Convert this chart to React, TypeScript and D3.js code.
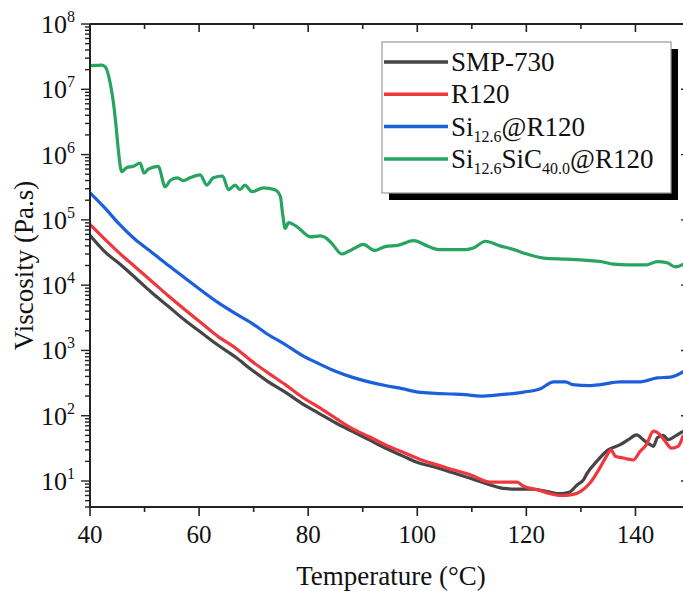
import { curveMonotoneX, line, scaleLinear, scaleLog } from 'd3';

// temperature (°C), viscosity (Pa.s)
const smp730: [number, number][] = [
  [40, 5.8e4], [42.8, 3.2e4], [45.2, 2.2e4], [48.3, 1.3e4], [51.3, 7.7e3], [54.4, 4.7e3],
  [57.4, 2.9e3], [60.5, 1.85e3], [63.5, 1.2e3], [66.6, 800], [69.7, 500], [72.7, 330],
  [75.8, 230], [78.8, 155], [81.9, 110], [85, 78], [88, 58], [91.1, 43], [94.1, 32],
  [97.2, 24.5], [100.2, 19], [103.3, 16.3], [106.4, 13.5], [109.7, 11], [113.4, 8.7],
  [115.8, 7.7], [118.3, 7.5], [120.7, 7.5], [123.8, 6.9], [126.2, 6.4], [127.8, 6.7],
  [129.3, 8.7], [130.5, 10.5], [131.1, 13], [132.9, 20], [135, 30], [137.2, 36],
  [138.7, 43], [140.2, 51], [141.4, 43], [142.7, 36], [143.3, 34], [144, 46], [145.1, 50],
  [146, 43], [147.5, 50], [148.8, 58],
];

const r120: [number, number][] = [
  [40, 8.5e4], [42.8, 5.0e4], [45.2, 3.2e4], [48.3, 1.9e4], [51.3, 1.15e4], [54.4, 6.8e3],
  [57.4, 4.2e3], [60.5, 2.6e3], [63.5, 1.63e3], [66.6, 1.1e3], [69.7, 680], [72.7, 450],
  [75.8, 300], [78.8, 195], [81.9, 135], [85, 92], [88, 64], [91.1, 48], [94.1, 36],
  [97.2, 28], [100.2, 22], [103.3, 18], [106.4, 15], [109.7, 12.5], [113.4, 9.6],
  [115.8, 9.6], [118.3, 9.6], [119.5, 8.3], [121.9, 7.4], [124.4, 6.4], [126.2, 6.0],
  [128.4, 6.2], [129.9, 6.9], [131.7, 9.4], [133.5, 16], [134.7, 24], [135.5, 30],
  [136.3, 24], [137.8, 22.5], [139.6, 21], [140.8, 28], [142, 36], [143.3, 58], [144.2, 54],
  [145.4, 41], [146.6, 32], [147.8, 34], [148.8, 51],
];

const siR120: [number, number][] = [
  [40, 2.6e5], [42.8, 1.5e5], [45.2, 8.9e4], [48.3, 5.0e4], [51.3, 3.2e4], [54.4, 2.0e4],
  [57.4, 1.29e4], [60.5, 8.2e3], [63.5, 5.4e3], [66.6, 3.7e3], [69.7, 2.6e3], [72.7, 1.74e3],
  [75.8, 1.23e3], [78.8, 850], [81.9, 630], [85, 480], [88, 390], [91.1, 330], [94.1, 290],
  [97.2, 260], [100.2, 230], [103.3, 220], [106.4, 215], [108.8, 210], [111.6, 200],
  [115.2, 210], [119.5, 230], [122.6, 260], [125, 330], [127.2, 330], [128.4, 300],
  [131.7, 290], [133.6, 300], [137.2, 330], [140.9, 330], [144, 380], [146.4, 390], [148.9, 480],
];

const siSicR120: [number, number][] = [
  [40, 2.3e7], [42.1, 2.35e7], [42.8, 2.2e7], [43.7, 1.25e7], [44.3, 6.2e6], [44.8, 2.6e6],
  [45.2, 1.17e6], [45.8, 5.5e5], [46.7, 6.3e5], [47.9, 6.6e5], [49.2, 7.4e5], [49.9, 5.2e5],
  [50.7, 6.0e5], [52.5, 6.6e5], [53.8, 3.2e5], [54.7, 4.0e5], [56, 4.4e5], [57.1, 4.0e5],
  [58.3, 4.4e5], [60.2, 4.9e5], [61.4, 3.4e5], [62.6, 4.4e5], [64.3, 4.7e5], [65.4, 2.9e5],
  [66.6, 3.4e5], [67.5, 2.9e5], [68.4, 3.4e5], [69.7, 2.7e5], [71.8, 3.1e5], [73.9, 2.9e5],
  [74.9, 2.3e5], [75.3, 1.26e5], [75.8, 7.4e4], [76.4, 9.1e4], [77.9, 7.9e4], [80.4, 5.5e4],
  [82.2, 5.7e4], [83.1, 5.4e4], [84.3, 4.4e4], [86.2, 3.0e4], [87.4, 3.3e4], [88.6, 3.7e4],
  [90.1, 4.2e4], [92.2, 3.4e4], [94.1, 3.9e4], [96.6, 4.1e4], [99.3, 4.8e4], [102.1, 3.9e4],
  [103.9, 3.5e4], [106.4, 3.5e4], [108.8, 3.5e4], [110.3, 3.7e4], [112.5, 4.7e4],
  [115.2, 4.0e4], [117.7, 3.5e4], [120.1, 3.0e4], [123.2, 2.6e4], [127.5, 2.5e4],
  [131.1, 2.4e4], [133.6, 2.3e4], [136, 2.1e4], [138.5, 2.05e4], [142.1, 2.05e4],
  [144, 2.3e4], [145.8, 2.2e4], [147.3, 1.9e4], [148.9, 2.1e4],
];

// legend labels: [text, subscript?]
const series = [
  { name: [['SMP-730', false]], color: '#454545', data: smp730 },
  { name: [['R120', false]], color: '#f0373c', data: r120 },
  { name: [['Si', false], ['12.6', true], ['@R120', false]], color: '#1c5fdc', data: siR120 },
  {
    name: [['Si', false], ['12.6', true], ['SiC', false], ['40.0', true], ['@R120', false]],
    color: '#27a45f',
    data: siSicR120,
  },
];

const xTicks = [40, 60, 80, 100, 120, 140];
const yExponents = [1, 2, 3, 4, 5, 6, 7, 8];

const W = 683;
const H = 591;
const margin = { top: 24, left: 90, right: 690, bottom: 507 };
const font = "'Liberation Serif', 'Times New Roman', Times, 'DejaVu Serif', serif";
const axisColor = '#222';

export default function App() {
  const x = scaleLinear().domain([40, 150]).range([margin.left, margin.right]);
  const y = scaleLog().domain([4, 1e8]).range([margin.bottom, margin.top]);

  const path = line<[number, number]>()
    .x((d) => x(d[0]))
    .y((d) => y(d[1]))
    .curve(curveMonotoneX);

  const xMinor = x.ticks(11).filter((t) => !xTicks.includes(t));
  const yAll = y.ticks();
  const isMajor = (v: number) => Math.abs(Math.log10(v) - Math.round(Math.log10(v))) < 1e-9;

  const lg = { x: 382, y: 42, w: 289, h: 151, row: 32.3 };

  return (
    <svg
      width={W}
      height={H}
      style={{ position: 'absolute', left: 0, top: 0, background: '#fff', fontFamily: font }}>
      <defs>
        <clipPath id='plot'>
          <rect
            x={margin.left}
            y={margin.top}
            width={margin.right - margin.left}
            height={margin.bottom - margin.top}
          />
        </clipPath>
      </defs>

      <g clipPath='url(#plot)'>
        {series.map((s) => (
          <path
            key={s.color}
            d={path(s.data) ?? ''}
            fill='none'
            stroke={s.color}
            strokeWidth={3.2}
            strokeLinejoin='round'
          />
        ))}
      </g>

      {/* frame */}
      <g stroke={axisColor} strokeWidth={2} fill='none'>
        <line x1={margin.left} x2={margin.right} y1={margin.bottom} y2={margin.bottom} />
        <line x1={margin.left} x2={margin.right} y1={margin.top} y2={margin.top} />
        <line x1={margin.left} x2={margin.left} y1={margin.top} y2={margin.bottom + 1} />
        <line x1={margin.right} x2={margin.right} y1={margin.top} y2={margin.bottom} />
      </g>

      {/* x ticks: out at bottom, in at top */}
      <g stroke={axisColor} strokeWidth={1.6}>
        {xTicks.map((t) => (
          <g key={t}>
            <line x1={x(t)} x2={x(t)} y1={margin.bottom} y2={margin.bottom + 9} />
            <line x1={x(t)} x2={x(t)} y1={margin.top} y2={margin.top + 8} />
          </g>
        ))}
        {xMinor.map((t) => (
          <g key={t}>
            <line x1={x(t)} x2={x(t)} y1={margin.bottom} y2={margin.bottom + 5} />
            <line x1={x(t)} x2={x(t)} y1={margin.top} y2={margin.top + 5} />
          </g>
        ))}
      </g>
      {xTicks.map((t) => (
        <text key={t} x={x(t)} y={543} fontSize={25} textAnchor='middle' fill='#111'>
          {t}
        </text>
      ))}

      {/* y ticks: out at left, in at right */}
      <g stroke={axisColor} strokeWidth={1.4}>
        {yAll.map((v) => {
          const len = isMajor(v) ? 9 : 5;
          return (
            <g key={v}>
              <line x1={margin.left - len} x2={margin.left} y1={y(v)} y2={y(v)} />
              <line x1={margin.right - len} x2={margin.right} y1={y(v)} y2={y(v)} />
            </g>
          );
        })}
      </g>
      {yExponents.map((e) => (
        <text key={e} x={75} y={y(10 ** e) + 9} fontSize={26} textAnchor='end' fill='#111'>
          10
          <tspan dy={-11} fontSize={16}>
            {e}
          </tspan>
        </text>
      ))}

      {/* axis titles */}
      <text x={391} y={585} fontSize={27} textAnchor='middle' fill='#111'>
        Temperature (°C)
      </text>
      <text
        transform={`translate(33, ${(margin.top + margin.bottom) / 2}) rotate(-90)`}
        fontSize={27}
        textAnchor='middle'
        fill='#111'>
        Viscosity (Pa.s)
      </text>

      {/* legend */}
      <rect x={lg.x + 7} y={lg.y + 7} width={lg.w} height={lg.h} fill='#000' />
      <rect x={lg.x} y={lg.y} width={lg.w} height={lg.h} fill='#fff' stroke='#999' strokeWidth={1.2} />
      {series.map((s, i) => {
        const cy = lg.y + 20 + i * lg.row;
        return (
          <g key={s.color}>
            <line x1={lg.x + 2} x2={lg.x + 66} y1={cy} y2={cy} stroke={s.color} strokeWidth={3.5} />
            <text x={lg.x + 69} y={cy + 9} fontSize={27} fill='#111'>
              {s.name.map(([txt, sub], j) => {
                const prevSub = j > 0 && s.name[j - 1][1];
                const dy = sub ? 6 : prevSub ? -6 : 0;
                return (
                  <tspan key={j} dy={dy} fontSize={sub ? 16 : 27}>
                    {txt}
                  </tspan>
                );
              })}
            </text>
          </g>
        );
      })}
    </svg>
  );
}
